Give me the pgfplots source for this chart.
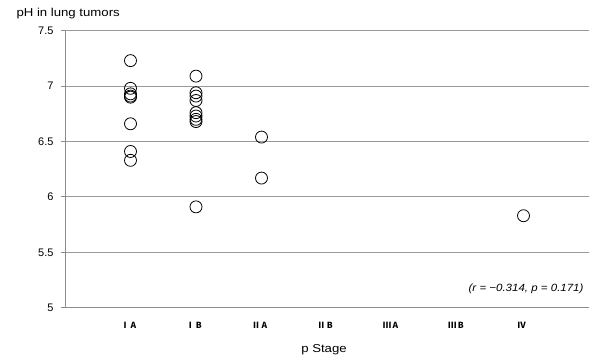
\documentclass[border=0pt]{standalone}
\usepackage{fontspec}
\setmainfont{Liberation Sans}
\newfontfamily\wide[FakeStretch=1.15]{Liberation Sans}
\newfontfamily\wideb[FakeStretch=1.1]{Liberation Sans}
\newfontfamily\jp{Noto Sans CJK JP}
\usepackage{pgfplots}
\pgfplotsset{compat=1.18}
\begin{document}
\begin{tikzpicture}
\path[use as bounding box] (-65bp,-53.3bp) rectangle (527bp,307.7bp);
\begin{axis}[
  at={(0,0)}, anchor=south west,
  scale only axis, width=524bp, height=277bp,
  xmin=0, xmax=8, ymin=5, ymax=7.5,
  xtick={1,2,3,4,5,6,7},
  xticklabels={Ⅰ\,A,Ⅰ\,B,Ⅱ\,A,Ⅱ\,B,Ⅲ\,A,Ⅲ\,B,Ⅳ},
  ytick={5,5.5,6,6.5,7,7.5},
  yticklabels={5,5.5,6,6.5,7,7.5},
  ymajorgrids,
  grid style={draw=black!40, line width=0.8bp},
  axis lines*=left,
  axis line style={-, draw=black!45, line width=0.8bp},
  tick align=outside,
  major tick length=4bp,
  ytick style={draw=black!45, line width=0.8bp},
  xtick style={draw=none},
  xticklabel style={font=\jp\bfseries\fontsize{8.5}{10}\selectfont, yshift=-7bp, xshift=-2bp},
  yticklabel style={font=\fontsize{11}{12}\selectfont, xshift=-4bp},
  clip=false,
]
\addplot[only marks, mark=o, mark size=6bp, mark options={fill=white, draw=black, line width=0.8bp}]
coordinates {
(1,7.23) (1,6.98) (1,6.93) (1,6.91) (1,6.90) (1,6.66) (1,6.41) (1,6.33)
(2,7.09) (2,6.94) (2,6.91) (2,6.87) (2,6.76) (2,6.73) (2,6.70) (2,6.68) (2,5.91)
(3,6.54) (3,6.17)
(7,5.83)
};
\end{axis}
\node[anchor=west, font=\wide\fontsize{11.5}{12}\selectfont] at (-52bp,293.7bp) {pH in lung tumors};
\node[font=\wide\fontsize{11.5}{12}\selectfont] at (259bp,-42.3bp) {p Stage};
\node[anchor=east, font=\wideb\itshape\fontsize{10.5}{11}\selectfont] at (522bp,18.7bp) {(r = −0.314, p = 0.171)};
\end{tikzpicture}
\end{document}
